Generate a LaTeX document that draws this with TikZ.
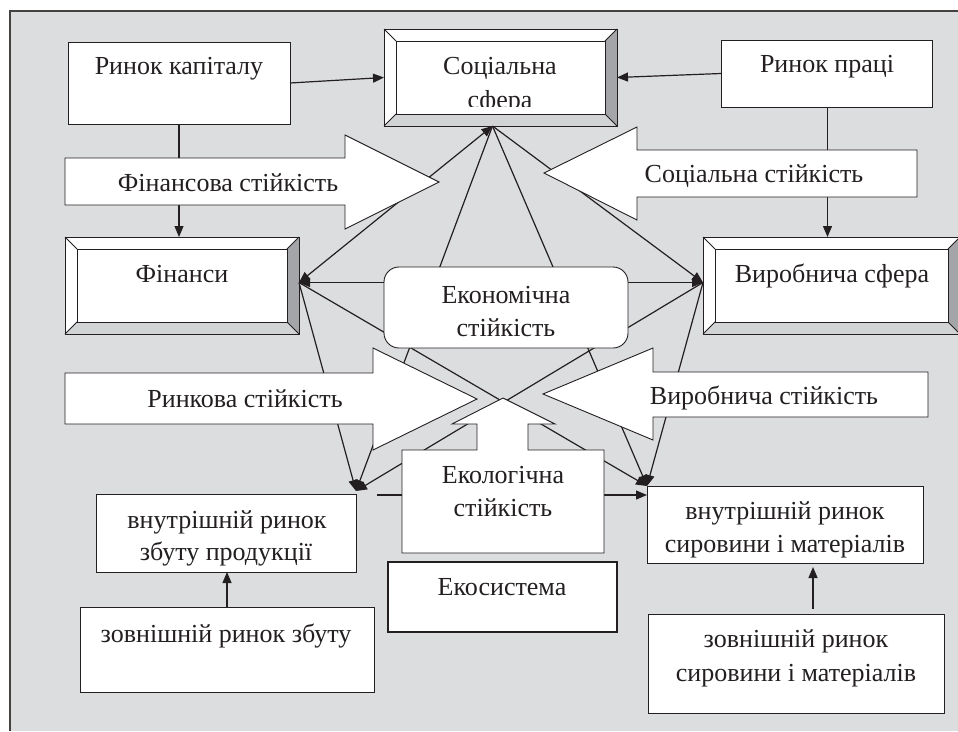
\documentclass[tikz,border=0pt]{standalone}
\usepackage{fontspec}
\setmainfont{Liberation Serif}
\usetikzlibrary{arrows.meta,calc}
\definecolor{bg}{HTML}{DCDDDF}
\definecolor{ink}{HTML}{231F20}
\definecolor{bevR}{HTML}{A4A5A8}
\definecolor{bevB}{HTML}{D2D3D5}
\newcommand{\bevelbox}[2]{%
  \fill[bevR] (#1.north east) -- (#1.south east) -- ($(#1.south east)+(-#2,-#2)$) -- ($(#1.north east)+(-#2,#2)$) -- cycle;
  \fill[bevB] (#1.south west) -- (#1.south east) -- ($(#1.south east)+(-#2,-#2)$) -- ($(#1.south west)+(#2,-#2)$) -- cycle;
  \draw[boxline] ($(#1.north west)+(#2,#2)$) rectangle ($(#1.south east)+(-#2,-#2)$);
  \draw[boxline] (#1.north west) -- ($(#1.north west)+(#2,#2)$);
  \draw[boxline] (#1.north east) -- ($(#1.north east)+(-#2,#2)$);
  \draw[boxline] (#1.south west) -- ($(#1.south west)+(#2,-#2)$);
  \draw[boxline] (#1.south east) -- ($(#1.south east)+(-#2,-#2)$);
  \draw[boxline] (#1.north west) rectangle (#1.south east);
}
\tikzset{
  boxline/.style={draw=ink, line width=0.9pt},
  box/.style={boxline, fill=white, inner sep=0pt, outer sep=0pt, rectangle},
  bbox/.style={fill=white, draw=none, inner sep=0pt, outer sep=0pt, rectangle},
  txt/.style={font=\fontsize{26}{30}\selectfont, anchor=base, inner sep=0pt, text=ink},
  conn/.style={draw=ink, line width=1.2pt, -{Triangle[length=11pt,width=9pt]}},
  conn2/.style={draw=ink, line width=1.2pt, {Triangle[length=11pt,width=9pt]}-{Triangle[length=11pt,width=9pt]}},
  bigarrow/.style={boxline, fill=white},
}
\begin{document}
\begin{tikzpicture}[x=1pt,y=-1pt]
\useasboundingbox (0,0) rectangle (958,731);
\clip (0,0) rectangle (958,731);
\fill[bg] (10,11) rectangle (958,731);
\draw[line width=1.5pt, draw=ink!85] (10,731) -- (10,11) -- (958,11);

% boxes
\node[box, minimum width=222pt, minimum height=82pt] (rk) at (179,83) {};
\node[bbox, minimum width=233pt, minimum height=97pt] (soc) at (500.5,77.5) {};
\bevelbox{soc}{12}
\node[box, minimum width=211pt, minimum height=67pt] (rp) at (826.5,73.5) {};
\node[bbox, minimum width=234pt, minimum height=97pt] (fin) at (182,285.5) {};
\bevelbox{fin}{12}
\node[bbox, minimum width=257pt, minimum height=97pt] (vir) at (831.5,285.5) {};
\bevelbox{vir}{12}
\node[box, minimum width=260pt, minimum height=78pt] (vz) at (226,533) {};
\node[box, minimum width=294pt, minimum height=85pt] (zz) at (227,649.5) {};
\node[box, minimum width=276pt, minimum height=77pt] (vs) at (785,524.5) {};
\node[box, minimum width=296pt, minimum height=99pt] (zs) at (796,663.5) {};
\node[box, line width=1.6pt, minimum width=229pt, minimum height=70pt] (ekosys) at (502.5,597) {};

% hubs
\coordinate (S) at ($(soc.south)+(-8,0)$);
\coordinate (F) at ($(fin.east)+(0,-3)$);
\coordinate (V) at ($(vir.west)+(0,-3)$);
\coordinate (L) at ($(vz.north east)+(0,-3)$);
\coordinate (R) at (vs.north west);
\coordinate (rpb) at ($(rp.south)+(1,0)$);
\coordinate (zst) at ($(zs.north)+(17,0)$);

% connectors
\draw[conn] (rk.east) -- (soc.west);
\draw[conn] (rp.west) -- (soc.east);
\draw[conn] (rk.south) -- (rk.south |- fin.north);
\draw[conn] (rpb) -- (rpb |- vir.north);
\draw[conn] (zz.north) -- (zz.north |- vz.south);
\draw[conn, shorten <=5pt, shorten >=4pt] (zst) -- (zst |- vs.south);

\draw[conn2] (F) -- (S);
\draw[conn] (S) -- (V);
\draw[conn] (S) -- (L);
\draw[conn] (S) -- (R);
\draw[conn2] (F) -- (V);
\draw[conn] (F) -- (L);
\draw[conn] (F) -- (R);
\draw[conn] (V) -- (L);
\draw[conn] (V) -- (R);
\draw[conn] ($(vz.north east)+(21,1)$) -- ($(vs.north west)+(0,9)$);

% economic stability
\node[box, rounded corners=15pt, minimum width=244pt, minimum height=81pt] (eco) at (506,307.5) {};

% big arrows
\path[bigarrow] (65,158) -- (345,158) -- (345,135) -- (439,182) -- (345,229) -- (345,205) -- (65,205) -- cycle;
\path[bigarrow] (917,150) -- (637,150) -- (637,127) -- (544,173) -- (637,220) -- (637,197) -- (917,197) -- cycle;
\path[bigarrow] (65,373) -- (373,373) -- (373,348) -- (477,399) -- (373,450) -- (373,424) -- (65,424) -- cycle;
\path[bigarrow] (928,372) -- (653,372) -- (653,348) -- (543,394) -- (653,440) -- (653,417) -- (928,417) -- cycle;
\path[bigarrow] (402,450) -- (477,450) -- (477,424) -- (452,424) -- (503,398) -- (555,424) -- (528,424) -- (528,450) -- (604,450) -- (604,553) -- (402,553) -- cycle;

% texts
\node[txt] at (179,74) {Ринок капіталу};
\node[txt] at (500,74) {Соціальна};
\begin{scope}
\clip (384,29) rectangle (617,106);
\node[txt] at (500,108) {сфера};
\end{scope}
\node[txt] at (827,72) {Ринок праці};
\node[txt] at (228,191) {Фінансова стійкість};
\node[txt] at (754,182) {Соціальна стійкість};
\node[txt] at (182,282) {Фінанси};
\node[txt] at (832,282) {Виробнича сфера};
\node[txt] at (506,303) {Економічна};
\node[txt] at (506,336) {стійкість};
\node[txt] at (245,407) {Ринкова стійкість};
\node[txt] at (764,404) {Виробнича стійкість};
\node[txt] at (503,483) {Екологічна};
\node[txt] at (503,516) {стійкість};
\node[txt] at (502,595) {Екосистема};
\node[txt] at (227,528) {внутрішній ринок};
\node[txt] at (226,560) {збуту продукції};
\node[txt] at (226,642) {зовнішній ринок збуту};
\node[txt] at (785,519) {внутрішній ринок};
\node[txt] at (785,552) {сировини і матеріалів};
\node[txt] at (796,647) {зовнішній ринок};
\node[txt] at (796,681) {сировини і матеріалів};
\end{tikzpicture}
\end{document}
